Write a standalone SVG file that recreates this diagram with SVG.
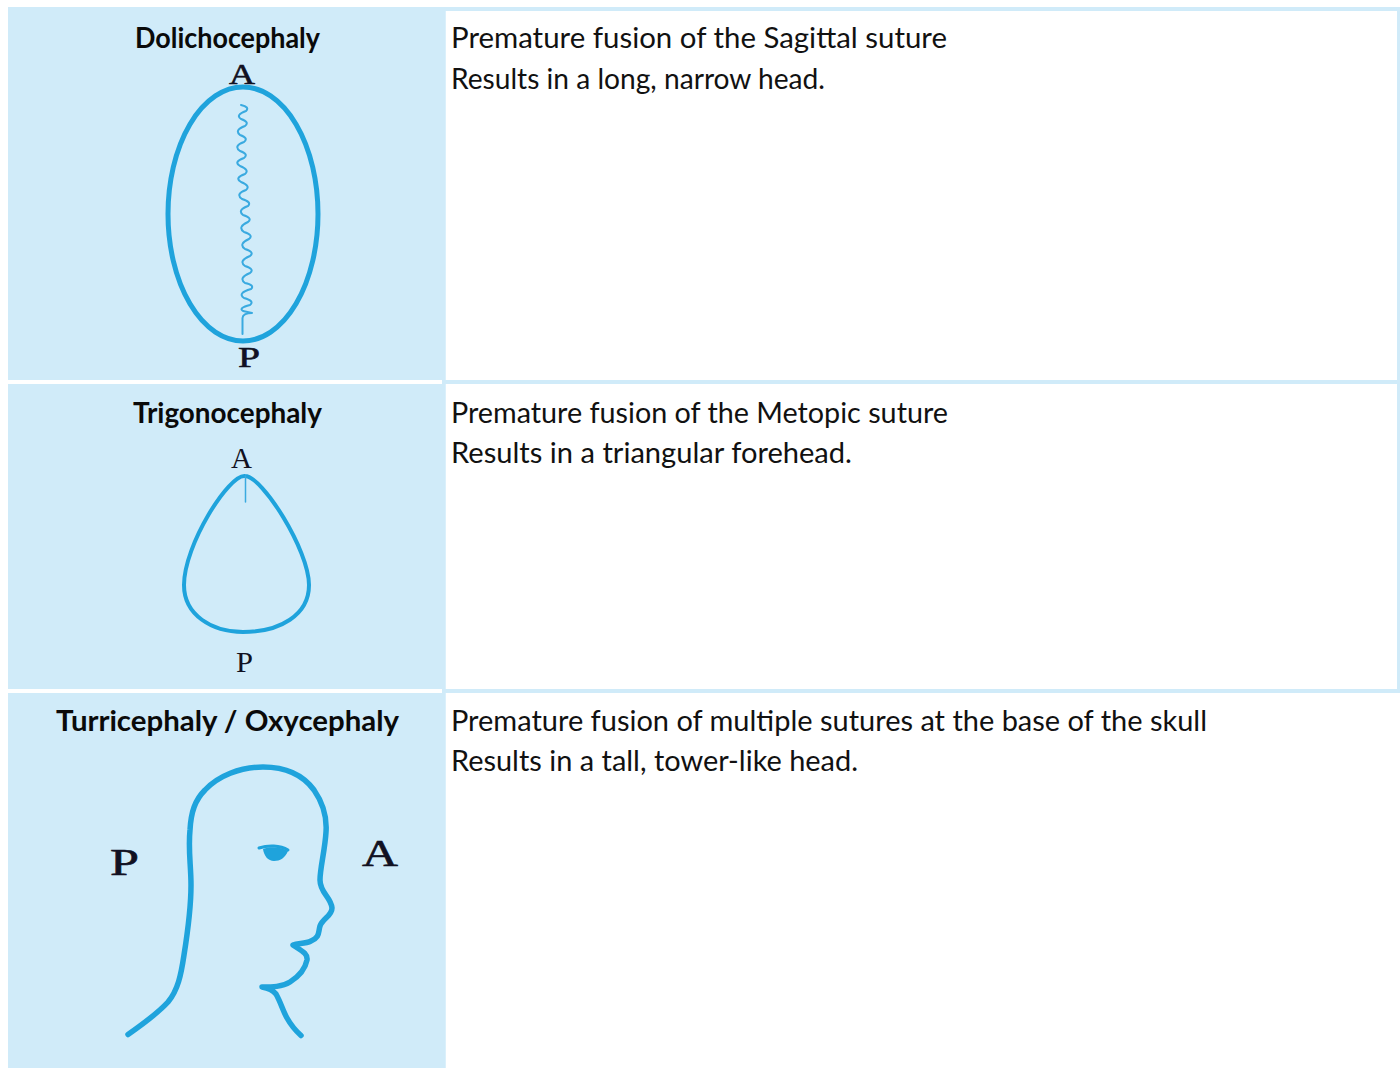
<svg xmlns="http://www.w3.org/2000/svg" width="1400" height="1068" viewBox="0 0 1400 1068">
  <style>
    .panel { fill: #d0ebf9; }
    .outline { fill: none; stroke: #1fa3dc; stroke-linecap: round; stroke-linejoin: round; }
    .thin { fill: none; stroke: #3aaae0; stroke-width: 2; stroke-linecap: round; stroke-linejoin: round; }
    .title { font-family: "Lato", "Noto Sans", sans-serif; font-weight: 700; font-size: 29px; fill: #0a0a0a; }
    .body { font-family: "Lato", "Noto Sans", sans-serif; font-size: 29px; fill: #111; }
    .mark { font-family: "Liberation Serif", serif; fill: #111122; }
    .heavy { stroke: #111122; stroke-width: 0.600; }
  </style>
  <rect width="1400" height="1068" fill="#ffffff"/>

  <!-- table frame and rules -->
  <g id="table">
    <rect class="panel" x="8" y="7" width="1392" height="4"/>
    <rect class="panel" x="1397" y="7" width="3" height="686"/>
    <rect class="panel" x="8" y="7" width="437.500" height="373"/>
    <rect class="panel" x="8" y="384" width="437.500" height="305"/>
    <rect class="panel" x="8" y="693" width="437.500" height="375"/>
    <rect class="panel" x="442" y="380" width="958" height="4"/>
    <rect class="panel" x="442" y="689" width="958" height="4"/>
    <rect class="panel" x="442" y="7" width="3.500" height="1061"/>
  </g>

  <g id="row-dolichocephaly">
    <text class="title" x="135" y="48" textLength="185" lengthAdjust="spacingAndGlyphs">Dolichocephaly</text>
    <text class="mark heavy" x="229" y="84" font-size="30" textLength="26" lengthAdjust="spacingAndGlyphs">A</text>
    <ellipse class="outline" stroke-width="5" cx="243" cy="214" rx="75" ry="127"/>
    <path class="thin" d="M241 105 Q250 107 246 111 Q235 115 241 119 Q250 122 245 126 Q234 130 240 135 Q249 138 244 142 Q233 146 240 151 Q249 154 244 158 Q233 162 240 166 Q250 170 245 174 Q234 178 241 182 Q251 186 246 190 Q235 194 242 199 Q252 202 248 206 Q237 210 243 215 Q253 218 248 222 Q237 227 244 232 Q254 235 249 239 Q238 244 245 249 Q255 252 250 256 Q238 261 245 266 Q255 269 250 273 Q238 278 245 283 Q255 285 251 289 Q237 293 244 298 Q255 301 250 305 Q238 308 243 311 L252 313 Q243 313 242.500 318 L242.500 334"/>
    <text class="mark heavy" x="238" y="367" font-size="30" textLength="22" lengthAdjust="spacingAndGlyphs">P</text>
    <text class="body" x="451" y="48" textLength="496" lengthAdjust="spacingAndGlyphs">Premature fusion of the Sagittal suture</text>
    <text class="body" x="451" y="89" textLength="374" lengthAdjust="spacingAndGlyphs">Results in a long, narrow head.</text>
  </g>

  <g id="row-trigonocephaly">
    <text class="title" x="133" y="423" textLength="189" lengthAdjust="spacingAndGlyphs">Trigonocephaly</text>
    <text class="mark" x="231" y="468" font-size="30" textLength="21" lengthAdjust="spacingAndGlyphs">A</text>
    <path class="outline" stroke-width="4" d="M245 476 C229 474 184 545 184 585 C184 615 212 632 243 632 C280 632 309 615 309 585 C309 550 262 476 245 476 Z"/>
    <path class="thin" style="stroke-width:1.500" d="M245.500 476 L245.500 502"/>
    <text class="mark" x="236" y="672" font-size="29" textLength="17" lengthAdjust="spacingAndGlyphs">P</text>
    <text class="body" x="451" y="423" textLength="497" lengthAdjust="spacingAndGlyphs">Premature fusion of the Metopic suture</text>
    <text class="body" x="451" y="463" textLength="401" lengthAdjust="spacingAndGlyphs">Results in a triangular forehead.</text>
  </g>

  <g id="row-turricephaly">
    <text class="title" x="56" y="731" textLength="343" lengthAdjust="spacingAndGlyphs">Turricephaly / Oxycephaly</text>
    <text class="mark heavy" x="110" y="875" font-size="38" textLength="29" lengthAdjust="spacingAndGlyphs">P</text>
    <text class="mark heavy" x="362" y="866" font-size="38" textLength="36" lengthAdjust="spacingAndGlyphs">A</text>
    <path class="outline" stroke-width="5.500" d="M128 1034.500 C143 1024 158 1013 168 1002 C178 990 181 975 184 955 C188 930 191 905 191 885 C191 865 188 850 190 830 C191 812 195 800 205 790 C218 776 240 767 263 767 C285 767 303 775 314 790 C323 803 327 818 326 832 C325 850 320 868 320 880 C320 893 331 897 332 908 C332 916 323 918 320 926 C318 933 320 937 311 941 C305 944 298 943 293 945 C300 950 308 953 307 960 C305 970 298 977 290 982 C282 987 272 987 262 987 C268 988 273 990 276 994 C281 1003 283 1011 287 1018 C292 1027 296 1031 301 1035.500"/>
    <path class="outline" stroke-width="3" d="M259 848 C268 845 280 845 288 850"/>
    <path d="M263 849 C270 846 282 847 288 851 C285 858 280 861 274 861 C268 861 264 856 263 849 Z" fill="#1fa3dc"/>
    <text class="body" x="451" y="731" textLength="756" lengthAdjust="spacingAndGlyphs">Premature fusion of multiple sutures at the base of the skull</text>
    <text class="body" x="451" y="771" textLength="407" lengthAdjust="spacingAndGlyphs">Results in a tall, tower-like head.</text>
  </g>
</svg>
